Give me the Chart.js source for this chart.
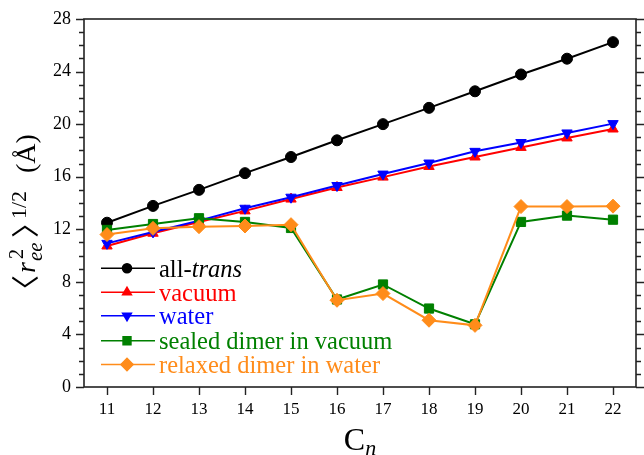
<!DOCTYPE html>
<html>
<head>
<meta charset="utf-8">
<script src="https://cdn.jsdelivr.net/npm/chart.js@4/dist/chart.umd.min.js"></script>
<style>
  html, body { margin: 0; padding: 0; background: #fff; }
  #wrap { width: 644px; height: 455px; position: relative; }
</style>
</head>
<body>
<div id="wrap"><canvas id="chart" width="644" height="455"></canvas></div>
<script>
// Chain length n of C_n
const chainLengths = [11, 12, 13, 14, 15, 16, 17, 18, 19, 20, 21, 22];

// Root-mean-square end-to-end distance, in angstrom
const allTrans          = [12.50, 13.78, 15.00, 16.27, 17.50, 18.77, 20.00, 21.24, 22.50, 23.78, 24.98, 26.24];
const vacuum            = [10.73, 11.70, 12.55, 13.40, 14.30, 15.18, 15.97, 16.78, 17.50, 18.23, 18.95, 19.63];
const water             = [10.93, 11.80, 12.66, 13.60, 14.44, 15.33, 16.20, 17.04, 17.93, 18.60, 19.33, 20.04];
const sealedDimerVacuum = [11.95, 12.40, 12.84, 12.56, 12.10, 6.66, 7.80, 5.97, 4.77, 12.56, 13.04, 12.73];
const relaxedDimerWater = [11.60, 12.07, 12.20, 12.25, 12.35, 6.60, 7.11, 5.08, 4.69, 13.73, 13.73, 13.76];

// Axis ticks
const yMajorTicks = [0, 4, 8, 12, 16, 20, 24, 28];
const yMinorStep = 1;
const yMin = 0, yMax = 28;
const xMin = 10.5, xMax = 22.5;

const SERIF = "'Liberation Serif', 'Times New Roman', 'DejaVu Serif', serif";
const BRACKET_FONT = "'Noto Sans CJK JP', 'DejaVu Serif', serif";

const seriesDefs = [
  { label: 'all-trans', data: allTrans, color: '#000000', style: 'circle', radius: 5.5, rotation: 0, order: 5 },
  { label: 'vacuum', data: vacuum, color: '#ff0000', style: 'triangle', radius: 6, rotation: 0, order: 4 },
  { label: 'water', data: water, color: '#0000ff', style: 'triangle', radius: 6, rotation: 180, order: 3 },
  { label: 'sealed dimer in vacuum', data: sealedDimerVacuum, color: '#008000', style: 'rect', radius: 6.5, rotation: 0, order: 2 },
  { label: 'relaxed dimer in water', data: relaxedDimerWater, color: '#ff8c1a', style: 'rectRot', radius: 7, rotation: 0, order: 1 }
];

const datasets = seriesDefs.map(s => ({
  label: s.label,
  data: chainLengths.map((n, i) => ({ x: n, y: s.data[i] })),
  borderColor: s.color,
  backgroundColor: s.color,
  borderWidth: 2,
  pointStyle: s.style,
  pointRadius: s.radius,
  pointRotation: s.rotation,
  pointBorderWidth: 1,
  pointBackgroundColor: s.color,
  pointBorderColor: s.color,
  tension: 0,
  order: s.order,
  yAxisID: 'y'
}));

// Frame and tick marks drawn on top of the scales
const framePlugin = {
  id: 'frame',
  afterDraw(chart) {
    const { ctx, chartArea: a, scales } = chart;
    const ys = scales.y, xs = scales.x;
    ctx.save();
    ctx.strokeStyle = '#222';
    ctx.lineWidth = 1.6;
    ctx.strokeRect(a.left, a.top, a.right - a.left, a.bottom - a.top);
    ctx.lineWidth = 1.4;
    ctx.beginPath();
    for (let v = yMin; v <= yMax; v += yMinorStep) {
      const py = Math.round(ys.getPixelForValue(v)) + 0.5;
      const major = yMajorTicks.includes(v);
      const len = major ? 8 : 5;
      ctx.moveTo(a.left, py); ctx.lineTo(a.left - len, py);
      ctx.moveTo(a.right, py); ctx.lineTo(a.right + len, py);
    }
    chainLengths.forEach(n => {
      const px = Math.round(xs.getPixelForValue(n)) + 0.5;
      ctx.moveTo(px, a.bottom); ctx.lineTo(px, a.bottom + 8);
    });
    ctx.stroke();
    ctx.restore();
  }
};

// Axis titles with sub/superscripts
const titlePlugin = {
  id: 'titles',
  afterDraw(chart) {
    const { ctx, chartArea: a } = chart;
    ctx.save();
    ctx.fillStyle = '#000';
    ctx.textBaseline = 'alphabetic';
    ctx.textAlign = 'left';

    // x title: C_n
    const F = 32, f = 22;
    ctx.font = `${F}px ${SERIF}`;
    const wC = ctx.measureText('C').width;
    ctx.font = `italic ${f}px ${SERIF}`;
    const wn = ctx.measureText('n').width;
    const x0 = (a.left + a.right) / 2 - (wC + wn) / 2;
    ctx.font = `${F}px ${SERIF}`;
    ctx.fillText('C', x0, 450);
    ctx.font = `italic ${f}px ${SERIF}`;
    ctx.fillText('n', x0 + wC, 455);

    // y title: <r_ee^2>^(1/2) (Å), written bottom to top
    const T = 28;
    const pieces = [
      { text: '\u3008', font: `28px ${BRACKET_FONT}`, at: 2, dy: 1, inkWidth: 12 },
      { text: 'r', font: `italic ${T}px ${SERIF}`, at: 17, dy: 0 },
      { text: 'ee', font: `italic 21px ${SERIF}`, at: 29, dy: 7 },
      { text: '2', font: `20px ${SERIF}`, at: 31, dy: -12 },
      { text: '\u3009', font: `28px ${BRACKET_FONT}`, at: 53, dy: 1, inkWidth: 12 },
      { text: '1/2', font: `22px ${SERIF}`, at: 71, dy: -9 },
      { text: '(\u00C5)', font: `${T}px ${SERIF}`, at: 117, dy: 0 }
    ];
    ctx.translate(35, 290);
    ctx.rotate(-Math.PI / 2);
    pieces.forEach(p => {
      ctx.font = p.font;
      if (p.inkWidth) {
        const m = ctx.measureText(p.text);
        const ink = (m.actualBoundingBoxRight + m.actualBoundingBoxLeft) || m.width;
        const sx = Math.min(1.6, Math.max(0.6, p.inkWidth / ink));
        ctx.save();
        ctx.translate(p.at, 0);
        ctx.scale(sx, 1);
        ctx.fillText(p.text, m.actualBoundingBoxLeft || 0, p.dy);
        ctx.restore();
      } else {
        ctx.fillText(p.text, p.at, p.dy);
      }
    });
    ctx.restore();
  }
};

// Legend inside the plot, text coloured like each series
const legendPlugin = {
  id: 'inlineLegend',
  afterDraw(chart) {
    const { ctx } = chart;
    const rowY = [268.3, 292.3, 315.7, 340.7, 364.5];
    const lineX0 = 101, lineX1 = 155, markX = 127, textX = 159;
    const LF = 24.5;
    ctx.save();
    chart.data.datasets.forEach((ds, i) => {
      const y = rowY[i];
      const def = seriesDefs[i];
      ctx.strokeStyle = ds.borderColor;
      ctx.lineWidth = 1.6;
      ctx.beginPath();
      ctx.moveTo(lineX0, y); ctx.lineTo(lineX1, y);
      ctx.stroke();
      ctx.fillStyle = ds.borderColor;
      Chart.helpers.drawPoint(ctx, {
        pointStyle: def.style,
        radius: def.radius - 1,
        rotation: def.rotation,
        borderWidth: 1
      }, markX, y);
      ctx.fillStyle = ds.borderColor;
      ctx.textBaseline = 'alphabetic';
      ctx.textAlign = 'left';
      if (ds.label === 'all-trans') {
        ctx.font = `${LF}px ${SERIF}`;
        ctx.fillText('all-', textX, y + 8.5);
        const w = ctx.measureText('all-').width;
        ctx.font = `italic ${LF}px ${SERIF}`;
        ctx.fillText('trans', textX + w, y + 8.5);
      } else {
        ctx.font = `${LF}px ${SERIF}`;
        ctx.fillText(ds.label, textX, y + 8.5);
      }
    });
    ctx.restore();
  }
};

new Chart(document.getElementById('chart'), {
  type: 'line',
  data: { datasets },
  plugins: [framePlugin, titlePlugin, legendPlugin],
  options: {
    responsive: false,
    animation: false,
    events: [],
    layout: { padding: { top: 19, right: 0, bottom: 0, left: 0 } },
    plugins: { legend: { display: false }, tooltip: { enabled: false } },
    scales: {
      x: {
        type: 'linear',
        min: xMin, max: xMax,
        afterBuildTicks: s => { s.ticks = chainLengths.map(v => ({ value: v })); },
        afterFit: s => { s.height = 68; },
        grid: { display: false },
        border: { display: false },
        ticks: { color: '#000', font: { family: SERIF, size: 17 }, padding: 4, maxRotation: 0, autoSkip: false }
      },
      y: {
        type: 'linear',
        position: 'left',
        min: yMin, max: yMax,
        afterBuildTicks: s => { s.ticks = yMajorTicks.map(v => ({ value: v })); },
        afterFit: s => { s.width = 84; },
        grid: { display: false },
        border: { display: false },
        ticks: { color: '#000', font: { family: SERIF, size: 18 }, padding: 5 }
      },
      yR: {
        type: 'linear',
        position: 'right',
        min: yMin, max: yMax,
        afterFit: s => { s.width = 6; },
        grid: { display: false },
        border: { display: false },
        ticks: { display: false }
      }
    }
  }
});
</script>
</body>
</html>
